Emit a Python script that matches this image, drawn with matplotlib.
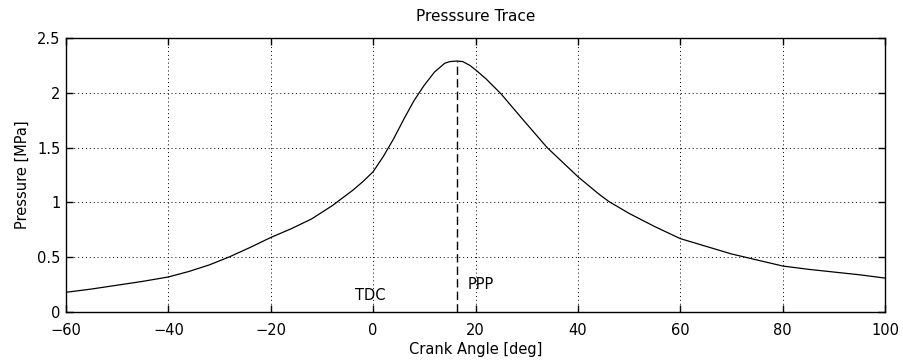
import matplotlib
matplotlib.use('Agg')
import matplotlib.pyplot as plt
import numpy as np

plt.rcParams['font.family'] = ['DejaVu Sans']
plt.rcParams['font.size'] = 10.5

# crank angle [deg] and cylinder pressure [MPa]
angle = [-60, -55, -50, -45, -40, -36, -32, -28, -24, -20, -16, -12, -8,
         -6, -4, -2, 0, 2, 4, 6, 8, 10, 12, 14, 15, 16.4, 17.5, 18.9, 20,
         22, 25, 29, 34, 40, 44, 46, 50, 55, 60, 65, 70, 75, 80, 85, 90,
         95, 100]
pressure = [0.18, 0.21, 0.245, 0.28, 0.32, 0.37, 0.43, 0.505, 0.59, 0.68,
            0.76, 0.85, 0.97, 1.04, 1.11, 1.19, 1.28, 1.42, 1.58, 1.76,
            1.93, 2.07, 2.19, 2.27, 2.285, 2.29, 2.285, 2.25, 2.21, 2.13,
            1.99, 1.77, 1.50, 1.235, 1.08, 1.01, 0.90, 0.78, 0.67, 0.60,
            0.53, 0.475, 0.42, 0.39, 0.365, 0.34, 0.31]

i_peak = int(np.argmax(pressure))
ppp_angle = angle[i_peak]
ppp = pressure[i_peak]

fig = plt.figure(figsize=(9.04, 3.62), dpi=100)
ax = fig.add_axes([0.073, 0.138, 0.906, 0.757])

ax.plot(angle, pressure, color='black', lw=0.9)
ax.plot([ppp_angle, ppp_angle], [0, ppp], color='black', lw=1.0,
        linestyle=(0, (6, 3)))

ax.text(-3.5, 0.15, 'TDC', ha='left', va='center')
ax.text(18.5, 0.25, 'PPP', ha='left', va='center')

ax.set_xlim(-60, 100)
ax.set_ylim(0, 2.5)
ax.set_xticks(np.arange(-60, 101, 20))
ax.set_yticks([0, 0.5, 1, 1.5, 2, 2.5])
ax.set_yticklabels(['0', '0.5', '1', '1.5', '2', '2.5'])
ax.tick_params(direction='in', length=5, width=1, top=True, right=True,
               colors='black')
ax.tick_params(axis='x', pad=8)
ax.tick_params(axis='y', pad=4)
ax.grid(True, color='black', linestyle=(0, (1, 3)), lw=0.7)
for s in ax.spines.values():
    s.set_linewidth(1.0)
    s.set_color('black')

ax.set_xlabel('Crank Angle [deg]', labelpad=3)
ax.set_ylabel('Pressure [MPa]', labelpad=5)
ax.set_title('Presssure Trace', fontsize=11, pad=12)

fig.savefig('out.png', dpi=100)
